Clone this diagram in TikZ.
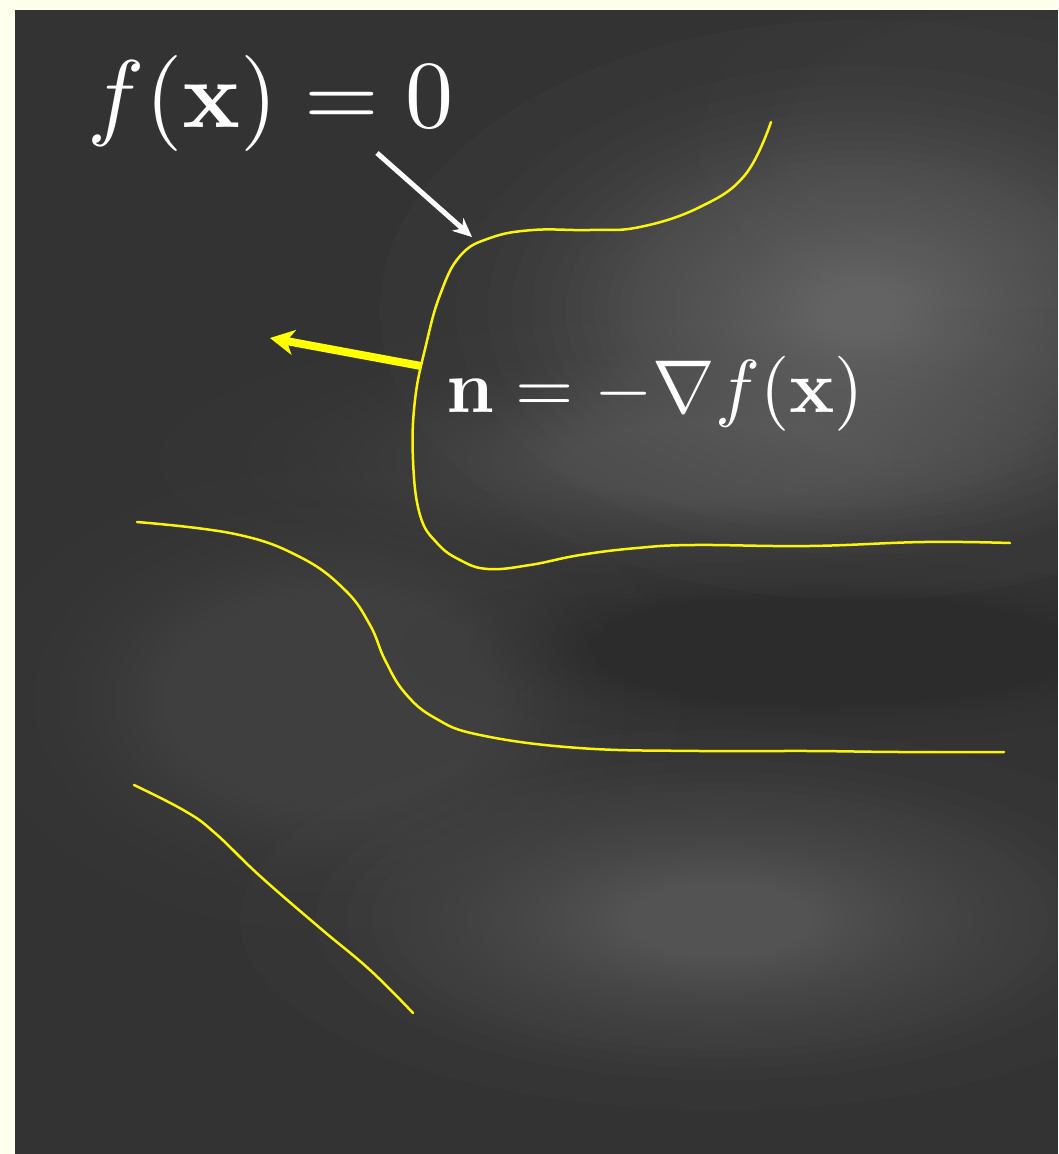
\documentclass[tikz,border=0pt]{standalone}
\usepackage{amsmath}
\usetikzlibrary{arrows.meta}
\definecolor{cream}{RGB}{255,255,238}
\definecolor{panel}{RGB}{51,51,51}
\definecolor{curvey}{RGB}{250,245,10}
\definecolor{arrowy}{RGB}{255,255,0}
\definecolor{gA}{RGB}{122,122,122}
\definecolor{gB}{RGB}{96,96,96}
\definecolor{gF}{RGB}{78,78,78}
\definecolor{gE}{RGB}{70,70,70}
\definecolor{gC}{RGB}{86,86,86}
\definecolor{gG}{RGB}{44,44,44}
\definecolor{gD}{RGB}{106,106,106}
\tikzset{
  levelset/.style={draw=curvey, line width=2.5pt, line cap=round, line join=round},
  ringfill/.style={fill=#1, fill opacity=0.045},
  mathlabel/.style={text=white, inner sep=0pt, anchor=base west}
}
% soft patch: centre, x radius, y radius, colour
\newcommand{\blobat}[4]{%
  \foreach \k in {1,...,40}{%
    \pgfmathsetmacro{\ringf}{1-sqrt(1-\k/40)}%
    \fill[ringfill=#4] (#1) ellipse [x radius={#2*\ringf}, y radius={#3*\ringf}];%
  }%
}
\begin{document}
\begin{tikzpicture}[x=1pt,y=-1pt]
\useasboundingbox (0,0) rectangle (1058,1154);
\fill[cream] (0,0) rectangle (1058,1154);
\begin{scope}
\clip (15,10) rectangle (1058,1154);
\fill[panel] (15,10) rectangle (1058,1154);
\blobat{1000,140}{300}{170}{gF}
\blobat{720,460}{560}{140}{gB}
\blobat{860,310}{480}{290}{gA}
\blobat{30,590}{110}{280}{gE}
\blobat{330,700}{350}{230}{gC}
\blobat{820,650}{420}{90}{gG}
\blobat{720,920}{480}{190}{gD}
\end{scope}
% level set curves
\draw[levelset] plot[smooth, tension=0.7] coordinates {(771,122) (745,175) (700,207) (640,227) (590,230) (533,230) (490,238) (460,256) (440,295) (426,345) (415,400) (413,460) (420,515) (437,543) (460,560) (488,569) (530,565) (580,555) (637,548) (694,545) (809,546) (924,542) (1010,543)};
\draw[levelset] plot[smooth, tension=0.7] coordinates {(137,522) (235,534) (300,557) (345,590) (370,625) (385,660) (405,693) (435,718) (480,735) (579,748) (700,751) (809,751) (900,752) (1004,752)};
\draw[levelset] plot[smooth, tension=0.7] coordinates {(134,785) (185,811) (215,833) (260,876) (320,928) (370,970) (413,1013)};
% labels
\node[mathlabel, scale=9.6] (lvl) at (86,127) {$f(\mathbf{x})=0$};
\node[mathlabel, scale=7.5] (nrm) at (445,412) {$\mathbf{n}=-\nabla f(\mathbf{x})$};
% arrows
\coordinate (wa) at (377,153);
\coordinate (wb) at (472,237);
\coordinate (ya) at (421,366);
\coordinate (yb) at (270,338);
\draw[white, line width=5pt, -{Stealth[length=19pt,width=17pt,inset=6pt]}] (wa) -- (wb);
\draw[arrowy, line width=8pt, -{Stealth[length=24pt,width=25pt,inset=7pt]}] (ya) -- (yb);
\end{tikzpicture}
\end{document}
